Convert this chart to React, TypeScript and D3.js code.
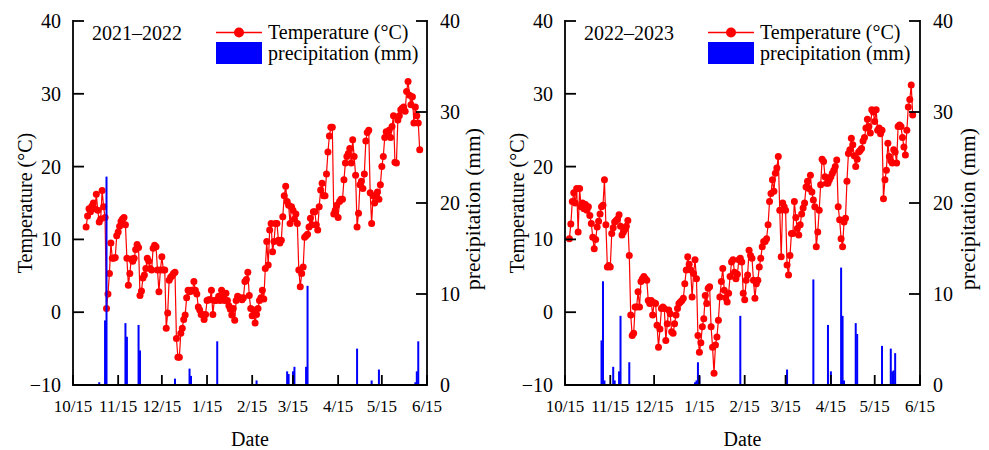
import React from 'react';
import * as d3 from 'd3';

const FONT = "'Liberation Serif', 'Times New Roman', serif";
const TOP = 21;
const BOTTOM = 385;

const seasons = ['2021–2022', '2022–2023'];
const monthTickLabels = ['10/15', '11/15', '12/15', '1/15', '2/15', '3/15', '4/15', '5/15', '6/15'];
const tempTicks = [-10, 0, 10, 20, 30, 40];
const precipTicks = [0, 10, 20, 30, 40];
const legendLabels = ['Temperature (°C)', 'precipitation (mm)'];

// daily mean temperature, one value per day from the start date
const tempStart2122 = '2021-10-24';
const temp2122 = [
  11.7, 13.2, 14.2, 13.8, 14.6, 15.0, 14.2, 16.2, 14.0, 12.4,
  12.8, 16.7, 14.5, 13.0, 0.5, 2.5, 5.3, 9.5, 7.4, 7.4,
  7.5, 10.5, 11.0, 11.8, 12.5, 12.8, 13.0, 12.0, 7.4, 3.7,
  5.3, 7.3, 7.0, 7.4, 8.6, 9.3, 8.9, 2.3, 2.9, 4.7,
  5.1, 6.0, 7.4, 7.0, 6.0, 5.8, 8.8, 9.2, 9.0, 5.8,
  2.8, 5.8, 7.6, 5.8, 5.8, -2.2, -0.1, 4.4, 4.8, 5.0,
  5.3, 5.5, -3.6, -6.2, -6.2, -2.9, -2.2, -1.0, -0.4, 2.0,
  3.0, 2.8, 3.0, 2.9, 4.2, 3.0, 2.5, 0.7, 0.3, -0.3,
  -0.3, -1.0, -0.3, 1.6, 1.7, 1.7, 3.0, -0.3, 1.6, 1.6,
  1.7, 2.2, 1.6, 3.0, 2.2, 1.6, 2.6, 1.6, 0.9, 0.4,
  -0.4, 0.5, -1.1, 1.6, 2.2, 1.9, 2.0, 1.7, 2.0, 4.2,
  4.5, 5.5, 2.3, 0.5, -0.5, 0.3, -1.5, -0.3, 0.5, 1.6,
  2.0, 3.0, 1.8, 6.0, 9.7, 6.5, 11.3, 12.2, 8.3, 9.7,
  12.2, 12.2, 9.9, 9.5, 9.9, 13.1, 16.0, 17.3, 15.2, 14.7,
  12.2, 14.5, 14.0, 12.8, 13.5, 12.2, 5.8, 3.5, 5.3, 6.2,
  10.3, 10.5, 10.7, 11.7, 12.9, 12.0, 13.8, 13.8, 12.0, 11.3,
  14.5, 16.8, 17.7, 16.0, 16.0, 19.0, 22.0, 24.2, 25.4, 25.4,
  13.5, 14.0, 14.7, 13.0, 15.2, 15.5, 15.5, 18.2, 20.5, 21.4,
  21.8, 22.5, 20.5, 23.7, 21.4, 18.8, 11.7, 13.6, 17.5, 18.0,
  17.0, 19.0, 23.5, 24.7, 25.0, 16.4, 12.2, 16.0, 15.0, 16.0,
  16.5, 15.5, 17.5, 20.0, 21.4, 24.0, 24.8, 24.6, 25.0, 24.0,
  25.5, 27.0, 20.6, 20.5, 26.4, 27.0, 27.8, 28.0, 28.2, 27.6,
  30.3, 31.7, 29.8, 28.5, 29.6, 26.0, 28.2, 27.0, 26.0, 22.3,
];

const tempStart2223 = '2022-10-18';
const temp2223 = [
  10.1, 12.1, 15.2, 16.4, 15.0, 17.0, 11.0, 17.0, 14.5, 15.0,
  14.2, 14.8, 14.0, 14.5, 13.3, 12.2, 10.3, 8.7, 10.0, 11.7,
  12.5, 13.5, 14.5, 14.7, 18.2, 12.0, 6.2, 6.4, 6.2, 10.8,
  11.6, 12.4, 12.6, 12.8, 13.4, 11.8, 10.6, 11.0, 11.4, 11.8,
  12.6, 7.8, -0.4, -3.2, -2.9, 0.7, 0.7, 2.8, 0.7, 4.2,
  4.6, 4.9, 4.6, 4.4, 1.6, 1.2, 1.6, -0.4, 1.3, 1.2,
  -1.8, -4.8, -2.3, 0.5, 0.7, 0.5, -3.9, -1.6, 0.3, -0.2,
  -2.7, -2.9, -1.6, -0.4, 0.5, 1.2, 1.4, 1.6, 1.9, 3.9,
  5.8, 7.6, 6.6, 5.8, 2.1, 5.3, 7.2, 4.6, -3.2, -5.5,
  -4.2, -2.0, -0.9, 2.3, 1.2, 3.3, 3.5, -2.0, -4.8, -8.4,
  -4.5, -3.4, -1.1, 2.1, 4.2, 6.0, 3.0, 2.0, 1.4, 2.6,
  4.9, 6.9, 7.2, 5.5, 4.6, 5.2, 7.2, 7.4, 6.9, 2.6,
  1.7, 4.4, 5.1, 8.5, 7.8, 7.4, 4.4, 1.9, 3.9, 4.4,
  6.2, 7.4, 9.0, 9.7, 9.7, 10.1, 12.0, 15.2, 16.3, 18.2,
  16.6, 19.1, 19.8, 21.4, 14.0, 7.6, 15.0, 14.5, 14.0, 6.5,
  5.1, 7.8, 10.8, 10.8, 15.2, 13.0, 11.5, 10.6, 12.0, 13.5,
  14.3, 15.0, 17.2, 18.0, 17.0, 18.8, 16.5, 15.4, 14.5, 9.0,
  11.0, 14.0, 17.5, 21.0, 20.7, 18.6, 17.7, 17.7, 18.2, 18.6,
  19.1, 19.5, 20.0, 20.9, 14.5, 12.7, 10.1, 9.0, 12.4, 12.9,
  18.0, 21.8, 22.3, 23.9, 23.0, 21.5, 20.0, 21.0, 22.0, 22.2,
  22.5, 23.5, 24.0, 25.3, 26.5, 25.5, 24.6, 27.8, 27.5, 26.2,
  27.8, 25.0, 25.3, 24.5, 25.0, 15.6, 18.2, 19.5, 23.2, 21.4,
  20.8, 20.5, 22.3, 22.0, 20.5, 25.5, 25.7, 25.5, 24.0, 22.7,
  21.6, 25.0, 28.2, 29.2, 31.2, 27.1,
];

// daily precipitation on rainy days
const rainDates2122 = [
  '2021-11-02', '2021-11-06', '2021-11-07', '2021-11-20', '2021-11-21', '2021-11-29',
  '2021-11-30', '2021-12-24', '2022-01-03', '2022-01-04', '2022-01-22', '2022-02-18',
  '2022-03-11', '2022-03-12', '2022-03-15', '2022-03-16', '2022-03-24', '2022-03-25',
  '2022-04-28', '2022-05-08', '2022-05-13', '2022-06-07', '2022-06-08', '2022-06-09',
];
const rain2122 = [
  0.3, 7.1, 22.9, 6.8, 5.3, 6.6,
  3.8, 0.7, 1.8, 1.0, 4.8, 0.5,
  1.5, 1.2, 1.5, 2.0, 2.0, 10.9,
  4.0, 0.5, 1.7, 0.3, 1.5, 4.8,
];

const rainDates2223 = [
  '2022-11-09', '2022-11-10', '2022-11-11', '2022-11-17', '2022-11-18', '2022-11-21',
  '2022-11-22', '2022-11-28', '2023-01-12', '2023-01-13', '2023-01-14', '2023-01-15',
  '2023-02-12', '2023-03-16', '2023-04-03', '2023-04-13', '2023-04-15', '2023-04-22',
  '2023-04-23', '2023-04-24', '2023-05-02', '2023-05-03', '2023-05-20', '2023-05-26',
  '2023-05-27', '2023-05-28', '2023-05-29',
];
const rain2223 = [
  4.9, 11.4, 0.5, 2.0, 0.5, 1.5,
  7.6, 2.5, 0.3, 0.5, 2.5, 1.0,
  7.6, 1.7, 11.6, 6.6, 1.5, 12.9,
  7.6, 0.5, 6.8, 5.6, 4.3, 4.0,
  1.5, 1.6, 3.5,
];

const parseDay = d3.timeParse('%Y-%m-%d');
const fmt = (v: number) => (v < 0 ? '\u2212' + Math.abs(v) : String(v));

type Pt = { date: Date; v: number };

type PanelProps = {
  left: number;
  right: number;
  firstYear: number;
  label: string;
  temps: number[];
  tempStart: string;
  rainDates: string[];
  rain: number[];
  rightTitleGap: number;
};

const Panel = ({ left, right, firstYear, label, temps, tempStart, rainDates, rain, rightTitleGap }: PanelProps) => {
  const x = d3.scaleTime()
    .domain([new Date(firstYear, 9, 15), new Date(firstYear + 1, 5, 15)])
    .range([left, right]);
  const yT = d3.scaleLinear().domain([-10, 40]).range([BOTTOM, TOP]);
  const yP = d3.scaleLinear().domain([0, 40]).range([BOTTOM, TOP]);

  const start = parseDay(tempStart) as Date;
  const points: Pt[] = temps.map((v, i) => ({ date: d3.timeDay.offset(start, i), v }));
  const line = d3.line<Pt>().x(d => x(d.date)).y(d => yT(d.v));

  const tickDates = monthTickLabels.map((_, i) => new Date(firstYear, 9 + i, 15));
  const barW = 2;
  const lx = left + 143;
  const midY = (TOP + BOTTOM) / 2;

  return (
    <g fontFamily={FONT} fill="#000">
      {/* temperature */}
      <path d={line(points) ?? ''} fill="none" stroke="#ff0000" strokeWidth={1.2} />
      {points.map((d, i) => (
        <circle key={i} cx={x(d.date)} cy={yT(d.v)} r={3.5} fill="#ff0000" />
      ))}

      {/* precipitation */}
      {rainDates.map((s, i) => {
        const cx = x(parseDay(s) as Date);
        return (
          <rect key={s} x={cx - barW / 2} y={yP(rain[i])} width={barW}
            height={BOTTOM - yP(rain[i])} fill="#0000ff" />
        );
      })}

      {/* axes */}
      <g stroke="#000" strokeWidth={1.8} fill="none">
        <line x1={left} x2={left} y1={TOP - 0.9} y2={BOTTOM + 0.9} />
        <line x1={right} x2={right} y1={TOP - 0.9} y2={BOTTOM + 0.9} />
        <line x1={left} x2={right} y1={BOTTOM} y2={BOTTOM} />
        {tempTicks.map(t => (
          <line key={'l' + t} x1={left} x2={left + 11} y1={yT(t)} y2={yT(t)} />
        ))}
        {precipTicks.map(t => (
          <line key={'r' + t} x1={right} x2={right - 11} y1={yP(t)} y2={yP(t)} />
        ))}
        {tickDates.map((d, i) => (
          <line key={'b' + i} x1={x(d)} x2={x(d)} y1={BOTTOM} y2={BOTTOM - 10} />
        ))}
      </g>

      {tempTicks.map(t => (
        <text key={'lt' + t} x={left - 12} y={yT(t) + 7} textAnchor="end" fontSize={20}>{fmt(t)}</text>
      ))}
      {precipTicks.map(t => (
        <text key={'rt' + t} x={right + 13} y={yP(t) + 7} textAnchor="start" fontSize={20}>{fmt(t)}</text>
      ))}
      {tickDates.map((d, i) => (
        <text key={'bt' + i} x={x(d)} y={412} textAnchor="middle" fontSize={17}>{monthTickLabels[i]}</text>
      ))}

      <text transform={`translate(${left - 41},${midY}) rotate(-90)`} textAnchor="middle" fontSize={20}>
        Temperature (°C)
      </text>
      <text transform={`translate(${right + rightTitleGap},${midY + 6}) rotate(-90)`} textAnchor="middle" fontSize={21.5}>
        precipitation (mm)
      </text>
      <text x={(left + right) / 2} y={446} textAnchor="middle" fontSize={20}>Date</text>

      {/* season label and legend */}
      <text x={left + 19} y={40} fontSize={20}>{label}</text>
      <line x1={lx} x2={lx + 46} y1={32.5} y2={32.5} stroke="#ff0000" strokeWidth={1.5} />
      <circle cx={lx + 23} cy={32.5} r={5} fill="#ff0000" />
      <rect x={lx} y={42} width={46} height={22} fill="#0000ff" />
      <text x={lx + 52} y={38.5} fontSize={20}>{legendLabels[0]}</text>
      <text x={lx + 52} y={60} fontSize={20}>{legendLabels[1]}</text>
    </g>
  );
};

export default function App() {
  return (
    <svg width={989} height={450} viewBox="0 0 989 450"
      style={{ position: 'absolute', left: 0, top: 0, background: '#fff' }}>
      <rect width={989} height={450} fill="#fff" />
      <Panel left={73} right={427} firstYear={2021} label={seasons[0]} rightTitleGap={53}
        temps={temp2122} tempStart={tempStart2122} rainDates={rainDates2122} rain={rain2122} />
      <Panel left={565} right={920} firstYear={2022} label={seasons[1]} rightTitleGap={55}
        temps={temp2223} tempStart={tempStart2223} rainDates={rainDates2223} rain={rain2223} />
    </svg>
  );
}
